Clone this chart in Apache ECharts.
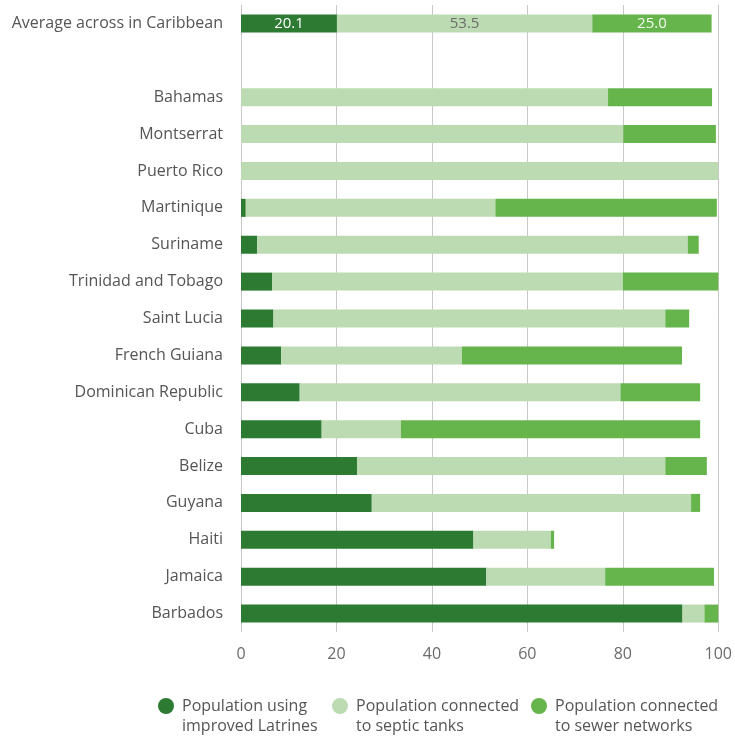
<!DOCTYPE html>
<html>
<head>
<meta charset="utf-8">
<script src="https://cdn.jsdelivr.net/npm/echarts@6/dist/echarts.min.js"></script>
<style>
  html, body { margin: 0; padding: 0; background: #fff; }
  #chart { width: 735px; height: 736px; }
</style>
</head>
<body>
<div id="chart"></div>
<script>
// Rows from top to bottom; the empty string leaves a gap under the average row
const categories = [
  'Average across in Caribbean', '',
  'Bahamas', 'Montserrat', 'Puerto Rico', 'Martinique', 'Suriname',
  'Trinidad and Tobago', 'Saint Lucia', 'French Guiana', 'Dominican Republic',
  'Cuba', 'Belize', 'Guyana', 'Haiti', 'Jamaica', 'Barbados'
];

// Share of population (%) by sanitation type
const latrines = [20.1, null, 0, 0, 0, 1.0, 3.4, 6.5, 6.8, 8.4, 12.3, 16.9, 24.3, 27.4, 48.7, 51.4, 92.5];
const septic   = [53.5, null, 76.9, 80.1, 100, 52.3, 90.2, 73.5, 82.1, 37.9, 67.2, 16.6, 64.6, 66.9, 16.2, 24.9, 4.6];
const sewer    = [25.0, null, 21.8, 19.4, 0, 46.4, 2.3, 20.0, 5.0, 46.1, 16.7, 62.7, 8.7, 1.9, 0.7, 22.8, 2.9];

const seriesNames = [
  'Population using\nimproved Latrines',
  'Population connected\nto septic tanks',
  'Population connected\nto sewer networks'
];
const seriesColors = ['#2d7a32', '#bddbb2', '#66b44c'];
const labelColors = ['#ffffff', '#6b6b6b', '#f4fbf1'];

const xTicks = { min: 0, max: 100, interval: 20 };

const FONT = '"Open Sans", "Noto Sans", sans-serif';

function buildSeries(values, i) {
  return {
    name: seriesNames[i],
    type: 'bar',
    stack: 'total',
    barWidth: 18,
    itemStyle: { color: seriesColors[i] },
    emphasis: { disabled: true },
    data: values.map((v, k) => ({
      value: v,
      // only the average row carries value labels
      label: {
        show: k === 0,
        position: 'inside',
        color: labelColors[i],
        fontFamily: FONT,
        fontSize: 15,
        formatter: p => p.value.toFixed(1)
      }
    }))
  };
}

// one legend block per series so each key sits at its own column;
// a blank leading line keeps the dot level with the first text line
const legendLefts = [158, 332, 531];
const legends = seriesNames.map((name, i) => ({
  bottom: 0,
  left: legendLefts[i],
  padding: 0,
  icon: 'circle',
  itemWidth: 16,
  itemHeight: 16,
  formatter: n => '\n' + n,
  textStyle: { color: '#555555', fontFamily: FONT, fontSize: 16, lineHeight: 20, padding: [0, 0, 0, 3] },
  selectedMode: false,
  data: [name]
}));

const chart = echarts.init(document.getElementById('chart'), null, { renderer: 'canvas' });

chart.setOption({
  animation: false,
  backgroundColor: '#ffffff',
  grid: { left: 241, right: 16, top: 5, bottom: 104, containLabel: false },
  xAxis: {
    type: 'value',
    min: xTicks.min,
    max: xTicks.max,
    interval: xTicks.interval,
    axisLine: { show: false },
    axisTick: { show: false },
    axisLabel: { color: '#6b6b6b', fontFamily: FONT, fontSize: 16, margin: 14 },
    splitLine: { show: true, lineStyle: { color: '#c8c8c8', width: 1 } }
  },
  yAxis: {
    type: 'category',
    inverse: true,
    data: categories,
    axisLine: { show: false },
    axisTick: { show: false },
    axisLabel: { color: '#555555', fontFamily: FONT, fontSize: 16, margin: 18 }
  },
  legend: legends,
  series: [latrines, septic, sewer].map(buildSeries)
});
</script>
</body>
</html>
